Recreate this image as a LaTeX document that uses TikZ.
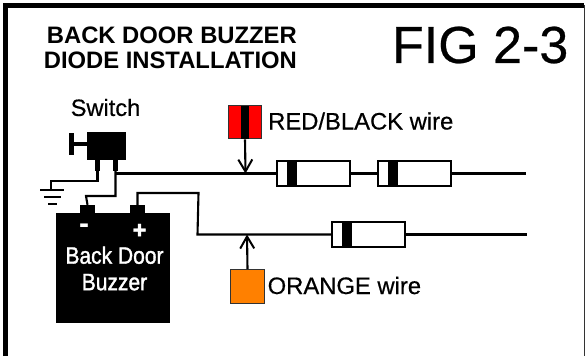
\documentclass[tikz,border=0pt]{standalone}
\usepackage{fontspec}
\setmainfont{Liberation Sans}
\newfontfamily\buzzfont[FakeBold=1.6]{Liberation Sans}
\newfontfamily\softfont[FakeBold=0.5]{Liberation Sans}
\usetikzlibrary{arrows.meta}

\begin{document}
\begin{tikzpicture}[x=1pt,y=-1pt,every node/.style={inner sep=0pt}]
    \tikzstyle{wire}=[line width=2.1pt]
    \tikzstyle{marrs}=[line width=2.1pt,-{Straight Barb[length=12pt,width=14pt,line width=2pt]}]
    \tikzstyle{lbl}=[anchor=west,font=\softfont\fontsize{23.8}{26}\selectfont]
    \tikzstyle{diode}=[draw,fill=white,line width=2.1pt,minimum width=73pt,minimum height=25pt]
    \tikzstyle{tag}=[draw=black!80,line width=1.1pt,minimum width=33.5pt,minimum height=33.5pt]
    \tikzstyle{blk}=[fill=black]
    \useasboundingbox (0,0) rectangle (585,356);

    \begin{scope}
        \draw[line width=5.2pt] (5.6,356) -- (5.6,5.8) -- (584,5.8);
        \draw[black!80,line width=1.2pt] (584.4,5) -- (584.4,356);

        \node[anchor=north east,align=right,font=\fontsize{23.8}{25.5}\selectfont\bfseries] (title) at (297,26.5) {BACK DOOR BUZZER\\DIODE INSTALLATION};
        \node[anchor=east,font=\softfont\fontsize{52}{54}\selectfont] (fig) at (568.5,45) {FIG 2-3};

        % switch
        \node[blk,minimum width=39pt,minimum height=28pt] (sw) at (106.5,146) {};
        \node[blk,minimum width=5pt,minimum height=22pt] (swplate) at (71.5,144) {};
        \node[blk,minimum width=5pt,minimum height=11pt] (swl) at (97.5,165.5) {};
        \node[blk,minimum width=5pt,minimum height=11pt] (swr) at (115.5,165.5) {};
        \draw[line width=4pt] (swplate) -- (swplate -| sw.west);
        \node[font=\softfont\fontsize{23.6}{26}\selectfont] (swlbl) at (105.5,107.5) {Switch};

        % buzzer
        \node[blk,minimum width=114pt,minimum height=110pt] (bz) at (113,268) {};
        \node[blk,minimum width=15pt,minimum height=8pt] (neg) at (87.5,209) {};
        \node[blk,minimum width=15pt,minimum height=8pt] (pos) at (137.5,209) {};
        \node[white,font=\fontsize{30}{30}\selectfont\bfseries] (minus) at (84,228.5) {-};
        \node[white,font=\buzzfont\fontsize{24}{26}\selectfont\bfseries] (plus) at (139.5,231) {+};
        \node[white,align=center,xscale=0.89,font=\buzzfont\fontsize{23.6}{26.5}\selectfont] (bzlbl) at (114.5,268.5) {Back Door\\Buzzer};

        % ground
        \coordinate (gnd) at (51,190);
        \draw[wire] (swl.south) -- (97.5,181) -- (51,181) -- (gnd);
        \draw[wire] (40,190) -- (64,190);
        \draw[wire] (44,197) -- (61,197);
        \draw[wire] (48,204) -- (57,204);

        % diodes
        \foreach \name/\x/\y in {da/313.5/173.5, db/414.5/173.5, dc/368.5/234.5} {
            \node[diode] (\name) at (\x,\y) {};
            \fill (\x-26.5,\y-12) rectangle +(10,24);
        }

        % wires
        \coordinate (tee) at (115.5,173.5);
        \coordinate (redtap) at (245.5,173.5);
        \coordinate (orgtap) at (247,234.5);
        \coordinate (enda) at (526,173.5);
        \coordinate (endb) at (527,234.5);
        \draw[wire] (swr.south) -- (115.5,196) -- (86,196) -- (neg.north);
        \draw[wire] (tee) -- (da.west);
        \draw[wire] (da.east) -- (db.west);
        \draw[wire] (db.east) -- (enda);
        \draw[wire] (pos.north) -- (137.5,193) -- (198.5,193) -- (197.5,234.5) -- (dc.west);
        \draw[wire] (dc.east) -- (endb);

        % wire tags
        \node[tag,fill=red] (red) at (245,122) {};
        \fill (241,105.5) rectangle +(8,33);
        \node[tag,fill={rgb,255:red,255;green,128;blue,0}] (orange) at (247.5,286.5) {};
        \draw[marrs] (red.south) -- (redtap);
        \draw[marrs] (orange.north) -- (orgtap);
        \node[lbl] (redlbl) at (268,121) {RED/BLACK wire};
        \node[lbl] (orglbl) at (267.5,285.5) {ORANGE wire};
    \end{scope}

\end{tikzpicture}
\end{document}
